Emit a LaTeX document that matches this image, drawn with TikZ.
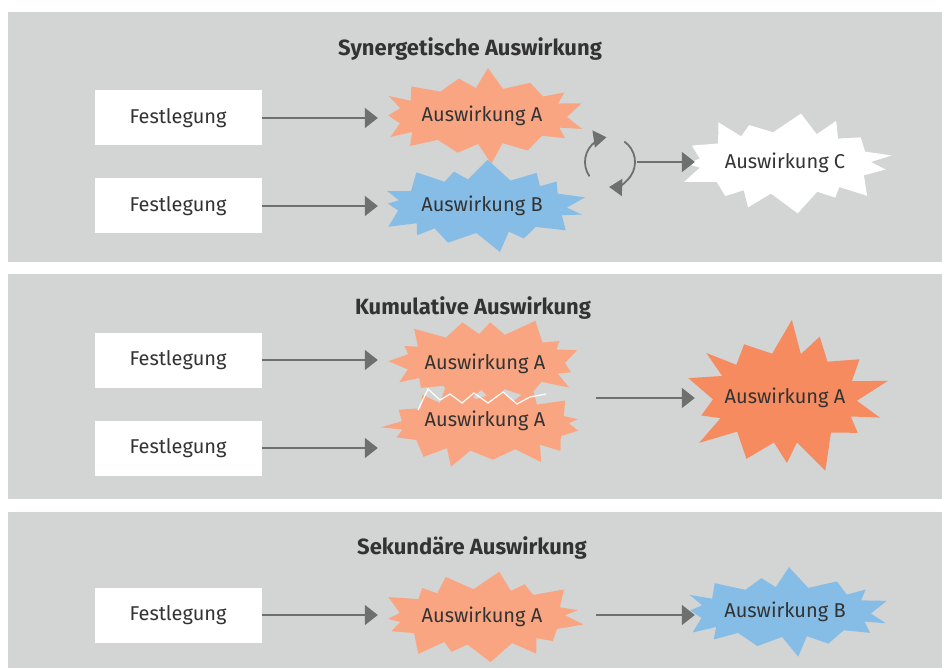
\documentclass[tikz,border=0pt]{standalone}
\usepackage{fontspec}
\setmainfont{Fira Sans}
\usetikzlibrary{arrows.meta}
\definecolor{panelgray}{HTML}{D3D4D4}
\definecolor{txt}{HTML}{333333}
\definecolor{arrgray}{HTML}{6E6F6F}
\definecolor{lightorange}{HTML}{FAA582}
\definecolor{darkorange}{HTML}{F58B5E}
\definecolor{lightblue}{HTML}{85BDE6}
\tikzset{
  panel/.style={fill=panelgray},
  fest/.style={fill=white, minimum width=167pt, minimum height=55pt, inner sep=0pt, text=txt, font=\fontsize{20}{23}\selectfont},
  title/.style={text=txt, font=\bfseries\fontsize{22}{25}\selectfont},
  bursttxt/.style={inner sep=0pt, minimum height=40pt, text=txt, font=\fontsize{20}{23}\selectfont},
  arr/.style={draw=arrgray, line width=1.8pt, -{Triangle[length=13pt,width=20pt]}},
  cyc/.style={draw=arrgray, line width=1.8pt, -{Triangle[length=13pt,width=17pt]}},
}
% #1 cx, #2 cy, #3 rx, #4 ry, #5 spike, #6 number of spikes, #7 seed, #8 colour
\newcommand\burstshape[8]{%
  \pgfmathtruncatemacro\bsN{2*#6-1}%
  \fill[#8] plot[samples at={0,...,\bsN}, variable=\t]
   ({#1 + (#3 + mod(\t,2)*#5*(0.72+0.28*sin(\t*113+#7)))*cos(\t*180/#6 + 4*sin(\t*71+#7*3))},
    {#2 + (#4 + mod(\t,2)*#5*(0.72+0.28*sin(\t*113+#7)))*sin(\t*180/#6 + 4*sin(\t*71+#7*3))}) -- cycle;
}
\begin{document}
\begin{tikzpicture}[x=1pt,y=-1pt]
\useasboundingbox (0,0) rectangle (942,668);
\fill[white] (0,0) rectangle (942,668);
% panels
\fill[panel] (8,12) rectangle (942,262);
\fill[panel] (8,274) rectangle (942,499);
\fill[panel] (8,512) rectangle (942,668);

% ---------- panel 1
\node[title] (t1) at (470,49) {Synergetische Auswirkung};
\node[fest] (f1) at (178,118) {Festlegung};
\node[fest] (f2) at (178,206) {Festlegung};
\burstshape{482}{116}{85}{28}{20}{15}{10}{lightorange}
\burstshape{482}{206}{85}{27}{20}{15}{40}{lightblue}
\burstshape{785}{163}{86}{31}{22}{15}{70}{white}
\node[bursttxt, minimum width=208pt] (a1) at (482,116) {Auswirkung A};
\node[bursttxt, minimum width=208pt] (b1) at (482,206) {Auswirkung B};
\node[bursttxt, minimum width=180pt] (c1) at (785,163) {Auswirkung C};
\draw[arr] (f1.east) -- (f1.east -| a1.west);
\draw[arr] (f2.east) -- (f2.east -| b1.west);
\coordinate (cy) at (610,162);
\draw[cyc] (cy) ++(145:25) arc[start angle=145, end angle=262, radius=25];
\draw[cyc] (cy) ++(-55:25) arc[start angle=-55, end angle=92, radius=25];
\coordinate (cyr) at (637,162);
\draw[arr] (cyr) -- (cyr -| c1.west);

% ---------- panel 2
\node[title] (t2) at (473,308) {Kumulative Auswirkung};
\node[fest] (f3) at (178,360) {Festlegung};
\node[fest] (f4) at (178,448) {Festlegung};
\burstshape{485}{362}{80}{28}{20}{15}{130}{lightorange}
\burstshape{485}{425}{84}{26}{20}{15}{200}{lightorange}
\draw[white, line width=1.2pt] (418,410) -- (428,389) -- (440,400) -- (450,394) -- (462,403) -- (474,393) -- (488,403) -- (503,392) -- (517,404) -- (530,397) -- (546,394);
\burstshape{785}{398}{72}{45}{34}{14}{260}{darkorange}
\node[bursttxt, minimum width=214pt] (a2) at (485,364) {Auswirkung A};
\node[bursttxt, minimum width=214pt] (a3) at (485,421) {Auswirkung A};
\node[bursttxt, minimum width=180pt] (a4) at (785,398) {Auswirkung A};
\draw[arr] (f3.east) -- (f3.east -| a2.west);
\draw[arr] (f4.east) -- (f4.east -| a3.west);
\coordinate (m2) at (596,398);
\draw[arr] (m2) -- (m2 -| a4.west);

% ---------- panel 3
\node[title] (t3) at (472,548) {Sekundäre Auswirkung};
\node[fest] (f5) at (178,615) {Festlegung};
\burstshape{482}{617}{83}{28}{20}{15}{320}{lightorange}
\burstshape{785}{612}{86}{25}{20}{15}{380}{lightblue}
\node[bursttxt, minimum width=208pt] (a5) at (482,617) {Auswirkung A};
\node[bursttxt, minimum width=180pt] (b5) at (785,612) {Auswirkung B};
\draw[arr] (f5.east) -- (f5.east -| a5.west);
\draw[arr, shorten <=10pt] (a5.east |- f5.east) -- (f5.east -| b5.west);
\end{tikzpicture}
\end{document}
